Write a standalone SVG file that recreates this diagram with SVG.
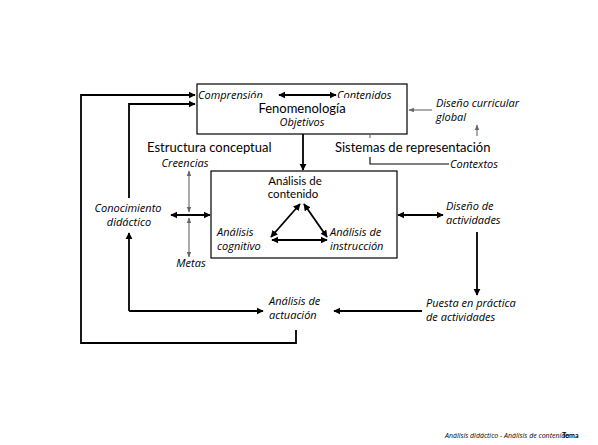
<svg xmlns="http://www.w3.org/2000/svg" width="598" height="445" viewBox="0 0 598 445">
  <style>
    .t { font-family: Lato, "Open Sans", sans-serif; fill: #000; }
    .it { font-family: "Open Sans", Lato, sans-serif; font-style: italic; font-size: 11px; fill: #000; }
    .big { font-size: 13px; }
    .mid { font-size: 11.5px; }
    .box { fill: #fff; stroke: #000; stroke-width: 1.2; }
    .ln { fill: none; stroke: #000; stroke-width: 1.8; }
    .gl { fill: none; stroke: #666; stroke-width: 1.1; }
  </style>
  <defs>
    <marker id="ah" viewBox="0 0 10 10" refX="9" refY="5" markerWidth="4" markerHeight="4" orient="auto-start-reverse">
      <path d="M0,0 L10,5 L0,10 z" fill="#000"/>
    </marker>
    <marker id="ag" viewBox="0 0 10 10" refX="9" refY="5" markerWidth="5" markerHeight="5" orient="auto-start-reverse">
      <path d="M0,1 L10,5 L0,9 z" fill="#666"/>
    </marker>
  </defs>

  <rect width="598" height="445" fill="#fff"/>

  <!-- top block: phenomenology box -->
  <g id="fenomenologia">
    <rect class="box" x="197" y="84" width="210" height="50"/>
    <text class="it" x="198" y="99">Comprensión</text>
    <text class="it" x="337" y="99">Contenidos</text>
    <text class="it" x="302" y="126" text-anchor="middle">Objetivos</text>
    <rect x="250" y="98" width="106" height="20" fill="#fff"/>
    <text class="t big" x="302" y="113" text-anchor="middle">Fenomenología</text>
  </g>

  <g id="estructura">
    <text class="t big" x="147" y="152">Estructura conceptual</text>
  </g>
  <g id="sistemas">
    <text class="t big" x="335" y="152">Sistemas de representación</text>
  </g>
  <g id="curricular">
    <text class="it" x="436" y="107">Diseño curricular</text>
    <text class="it" x="436" y="121">global</text>
  </g>
  <g id="contextos">
    <text class="it" x="450" y="168">Contextos</text>
  </g>

  <!-- central block: content analysis box -->
  <g id="analisis">
    <rect class="box" x="211" y="171" width="186" height="87"/>
    <text class="t mid" x="295" y="185" text-anchor="middle">Análisis de</text>
    <text class="t mid" x="293" y="198" text-anchor="middle">contenido</text>
    <text class="it" x="217" y="236">Análisis</text>
    <text class="it" x="217" y="250">cognitivo</text>
    <text class="it" x="330" y="236">Análisis de</text>
    <text class="it" x="330" y="250">instrucción</text>
  </g>

  <g id="creencias">
    <text class="it" x="185" y="167" text-anchor="middle">Creencias</text>
  </g>
  <g id="metas">
    <text class="it" x="191" y="267" text-anchor="middle">Metas</text>
  </g>
  <g id="conocimiento">
    <text class="it" x="128" y="212" text-anchor="middle">Conocimiento</text>
    <text class="it" x="129" y="226" text-anchor="middle">didáctico</text>
  </g>
  <g id="diseno">
    <text class="it" x="446" y="210">Diseño de</text>
    <text class="it" x="446" y="224">actividades</text>
  </g>
  <g id="puesta">
    <text class="it" x="426" y="307">Puesta en práctica</text>
    <text class="it" x="426" y="321">de actividades</text>
  </g>
  <g id="actuacion">
    <text class="it" x="269" y="305">Análisis de</text>
    <text class="it" x="269" y="319">actuación</text>
  </g>

  <!-- connectors -->
  <g id="connectors">
    <line class="ln" x1="279" y1="95" x2="336" y2="95" marker-start="url(#ah)" marker-end="url(#ah)"/>
    <line class="ln" x1="303" y1="134" x2="303" y2="170" marker-end="url(#ah)"/>
    <!-- triangle inside the analysis box -->
    <line class="ln" x1="300" y1="204" x2="271" y2="237" marker-start="url(#ah)" marker-end="url(#ah)"/>
    <line class="ln" x1="304" y1="204" x2="327" y2="237" marker-start="url(#ah)" marker-end="url(#ah)"/>
    <line class="ln" x1="272" y1="240" x2="327" y2="240" marker-start="url(#ah)" marker-end="url(#ah)"/>
    <!-- left side -->
    <line class="ln" x1="171" y1="215" x2="210" y2="215" marker-start="url(#ah)" marker-end="url(#ah)"/>
    <line class="gl" x1="189" y1="171" x2="189" y2="212" marker-start="url(#ag)" marker-end="url(#ag)"/>
    <line class="gl" x1="189" y1="218" x2="189" y2="257" marker-start="url(#ag)" marker-end="url(#ag)"/>
    <polyline class="ln" points="296,330 296,343 81,343 81,95 195,95" marker-end="url(#ah)"/>
    <polyline class="ln" points="129,198 129,104 195,104" marker-end="url(#ah)"/>
    <polyline class="ln" points="129,311 129,233" marker-end="url(#ah)"/>
    <polyline class="ln" points="129,311 263,311" marker-end="url(#ah)"/>
    <!-- right side -->
    <line class="gl" x1="432" y1="110" x2="409" y2="110" marker-end="url(#ag)"/>
    <line class="gl" x1="477" y1="136" x2="477" y2="125" marker-end="url(#ag)"/>
    <line class="gl" x1="370" y1="135" x2="370" y2="138"/>
    <polyline fill="none" stroke="#000" stroke-width="1.1" points="370,157 370,164 449,164"/>
    <line class="ln" x1="398" y1="215" x2="443" y2="215" marker-start="url(#ah)" marker-end="url(#ah)"/>
    <line class="ln" x1="477" y1="232" x2="477" y2="295" marker-end="url(#ah)"/>
    <line class="ln" x1="422" y1="311" x2="334" y2="311" marker-end="url(#ah)"/>
  </g>

  <g id="footer">
    <text class="it" x="445" y="438" style="font-size:7px">Análisis didáctico - Análisis de contenido</text>
    <text class="t" x="562" y="438" style="font-size:7px;font-weight:bold">Tema</text>
  </g>
</svg>
